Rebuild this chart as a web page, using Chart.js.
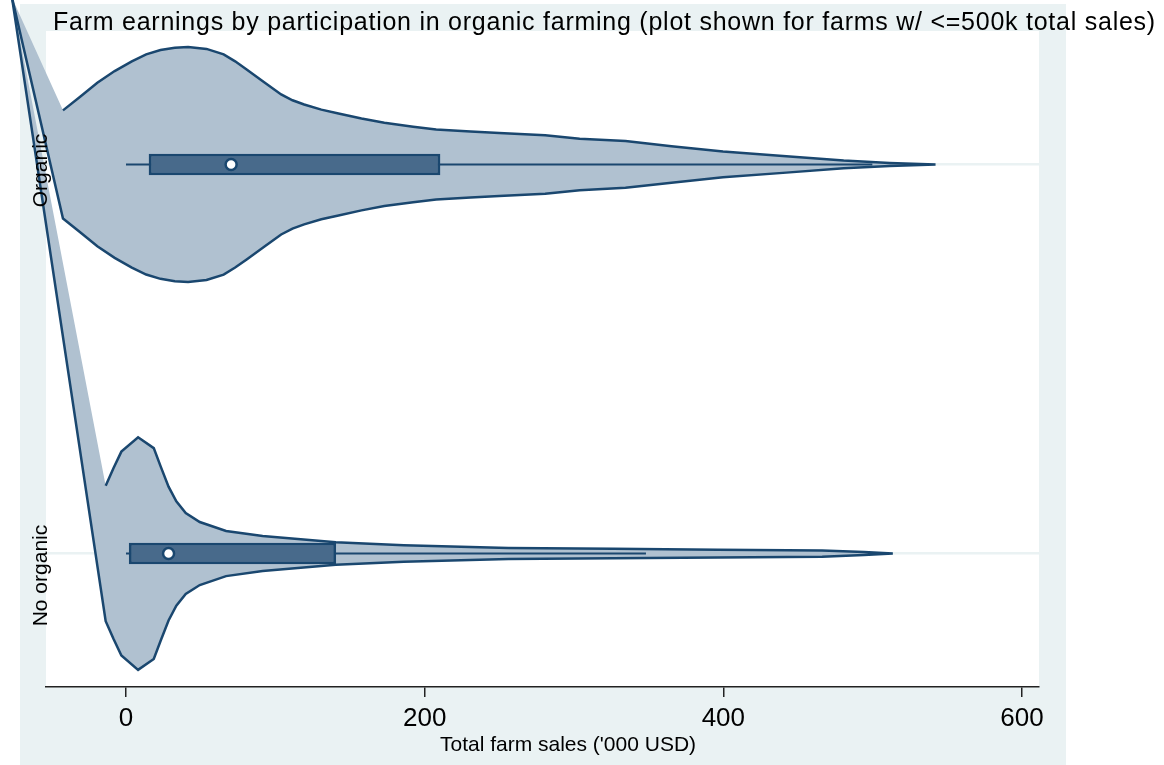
<!DOCTYPE html>
<html>
<head>
<meta charset="utf-8">
<script src="https://cdn.jsdelivr.net/npm/chart.js@4.4.1/dist/chart.umd.min.js"></script>
<style>
  html, body { margin: 0; padding: 0; background: #fff; }
  canvas { display: block; }
</style>
</head>
<body>
<canvas id="myChart" width="1164" height="765"></canvas>
<script>
// categories and where they sit on the value axis
const categories = ['Organic', 'No organic'];
const categoryPos = [2, 1];

// violin outlines: sales ('000 USD) and half-width of the density
const organicX = [-42.2, -30.7, -19.2, -7.6, 3.9, 13.5, 23.1, 32.7, 41.6, 53.9, 65.4, 73.1, 80.8, 92.3, 103.9, 111.5, 119.3, 130.8, 142.3, 157.7, 173.0, 192.3, 207.7, 230.7, 249.9, 280.7, 303.8, 334.5, 365.3, 399.8, 442.2, 480.6, 511.4, 542.1];
const organicHalf = [0.139, 0.174, 0.210, 0.240, 0.265, 0.283, 0.294, 0.300, 0.302, 0.297, 0.283, 0.265, 0.244, 0.212, 0.180, 0.165, 0.154, 0.141, 0.131, 0.118, 0.107, 0.097, 0.090, 0.085, 0.081, 0.075, 0.066, 0.060, 0.047, 0.033, 0.021, 0.010, 0.004, 0];
const noOrganicX = [-13.6, -8.4, -3.1, 8.1, 18.6, 23.2, 28.5, 33.7, 40.0, 49.4, 67.0, 91.5, 140.5, 186.0, 256.1, 326.1, 396.2, 466.2, 494.2, 513.5];
const noOrganicHalf = [0.174, 0.219, 0.262, 0.299, 0.271, 0.224, 0.172, 0.134, 0.104, 0.081, 0.058, 0.045, 0.029, 0.021, 0.014, 0.012, 0.010, 0.008, 0.004, 0];

// stray point the original plot joins both outlines to (off the axis range)
const strayPoint = { x: -76.3, y: 2.428 };

// box plot summaries
const boxQ1 = [15.4, 2.1];
const boxQ3 = [210.3, 140.5];
const medians = [70.4, 28.5];
const whiskerLo = [0, 0];
const whiskerHi = [499.8, 348.2];

const xTicks = [0, 200, 400, 600];

const navy = '#1A476F';
const violinColor = '#B0C1D0';
const boxColor = '#486A8B';
const bgColor = '#EAF2F3';
const font = "'Liberation Sans', Arial, sans-serif";

function outline(xs, half, center) {
    const upper = xs.map((x, i) => ({ x: x, y: center + half[i] }));
    const lower = xs.map((x, i) => ({ x: x, y: center - half[i] })).reverse();
    return upper.concat(lower, [strayPoint]);
}

const violins = [
    { label: categories[0], data: outline(organicX, organicHalf, categoryPos[0]) },
    { label: categories[1], data: outline(noOrganicX, noOrganicHalf, categoryPos[1]) }
].map(v => ({
    type: 'scatter',
    label: v.label,
    data: v.data,
    violin: true,
    fillColor: violinColor,
    showLine: true,
    borderColor: navy,
    borderWidth: 2.5,
    pointRadius: 0,
    tension: 0,
    clip: false,
    order: 4
}));

const whiskers = categories.map((c, i) => ({
    type: 'scatter',
    label: c + ' whisker',
    data: [{ x: whiskerLo[i], y: categoryPos[i] }, { x: whiskerHi[i], y: categoryPos[i] }],
    showLine: true,
    borderColor: navy,
    borderWidth: 2,
    pointRadius: 0,
    order: 3
}));

const boxes = {
    type: 'bar',
    label: 'IQR',
    indexAxis: 'y',
    data: categories.map((c, i) => ({ x: [boxQ1[i], boxQ3[i]], y: categoryPos[i] })),
    backgroundColor: boxColor,
    borderColor: navy,
    borderWidth: 2.5,
    borderSkipped: false,
    barThickness: 21,
    order: 2
};

const medianPts = {
    type: 'scatter',
    label: 'median',
    data: categories.map((c, i) => ({ x: medians[i], y: categoryPos[i] })),
    pointRadius: 5.5,
    pointBackgroundColor: '#fff',
    pointBorderColor: navy,
    pointBorderWidth: 2.5,
    order: 1
};

const backdrop = {
    id: 'backdrop',
    beforeDraw(chart) {
        const { ctx, chartArea: a, width, height } = chart;
        ctx.save();
        ctx.fillStyle = '#fff';
        ctx.fillRect(0, 0, width, height);
        ctx.fillStyle = bgColor;
        ctx.fillRect(a.left - 26, a.top - 27, a.right - a.left + 53, height - a.top + 27);
        ctx.fillStyle = '#fff';
        ctx.fillRect(a.left, a.top, a.right - a.left, a.bottom - a.top);
        ctx.restore();
    },
    beforeDatasetsDraw(chart) {
        const { ctx } = chart;
        ctx.save();
        ctx.fillStyle = '#000';
        ctx.textAlign = 'left';
        ctx.textBaseline = 'alphabetic';
        ctx.font = '25px ' + font;
        ctx.letterSpacing = '0.75px';
        ctx.fillText('Farm earnings by participation in organic farming (plot shown for farms w/ <=500k total sales)', 53, 30);
        ctx.letterSpacing = '0px';

        ctx.textAlign = 'center';
        ctx.font = '21px ' + font;
        ctx.fillText("Total farm sales ('000 USD)", 568, 751);
        ctx.restore();
    },
    afterDatasetsDraw(chart) {
        const { ctx } = chart;
        const y = chart.scales.y;
        ctx.save();
        ctx.fillStyle = '#000';
        ctx.textAlign = 'center';
        ctx.textBaseline = 'alphabetic';
        ctx.font = '21px ' + font;
        const labelShift = [6, 22];
        categories.forEach((c, i) => {
            ctx.save();
            ctx.translate(47, y.getPixelForValue(categoryPos[i]) + labelShift[i]);
            ctx.rotate(-Math.PI / 2);
            ctx.fillText(c, 0, 0);
            ctx.restore();
        });
        ctx.restore();
    }
};

const violinFill = {
    id: 'violinFill',
    beforeDatasetDraw(chart, args) {
        const ds = chart.data.datasets[args.index];
        if (!ds.violin) return;
        const pts = args.meta.data;
        const ctx = chart.ctx;
        ctx.save();
        ctx.beginPath();
        pts.forEach((p, i) => i ? ctx.lineTo(p.x, p.y) : ctx.moveTo(p.x, p.y));
        ctx.closePath();
        ctx.fillStyle = ds.fillColor;
        ctx.fill();
        ctx.restore();
    }
};

const ctx = document.getElementById('myChart').getContext('2d');
const myChart = new Chart(ctx, {
    type: 'scatter',
    data: {
        datasets: [medianPts, boxes].concat(whiskers, violins)
    },
    options: {
        responsive: false,
        animation: false,
        layout: { padding: { top: 31, right: 125, left: 0, bottom: 0 } },
        plugins: {
            legend: { display: false },
            tooltip: { enabled: false },
            title: { display: false }
        },
        scales: {
            x: {
                type: 'linear',
                position: 'bottom',
                min: -53.57,
                max: 611.4,
                offset: false,
                afterBuildTicks: s => { s.ticks = xTicks.map(v => ({ value: v })); },
                afterFit: s => { s.height = 78; },
                ticks: {
                    color: '#000',
                    font: { family: font, size: 26 },
                    padding: 6,
                    maxRotation: 0,
                    autoSkip: false
                },
                grid: {
                    display: true,
                    offset: false,
                    drawOnChartArea: false,
                    drawTicks: true,
                    tickLength: 10,
                    color: '#222',
                    lineWidth: 1.5
                },
                border: { display: true, color: '#222', width: 1.5 }
            },
            y: {
                type: 'linear',
                position: 'left',
                min: 0.657,
                max: 2.343,
                offset: false,
                afterBuildTicks: s => { s.ticks = categoryPos.map(v => ({ value: v })); },
                afterFit: s => { s.width = 46; },
                ticks: { display: false },
                grid: { color: bgColor, lineWidth: 2.5, drawTicks: false, offset: false },
                border: { display: false }
            }
        }
    },
    plugins: [backdrop, violinFill]
});
</script>
</body>
</html>
